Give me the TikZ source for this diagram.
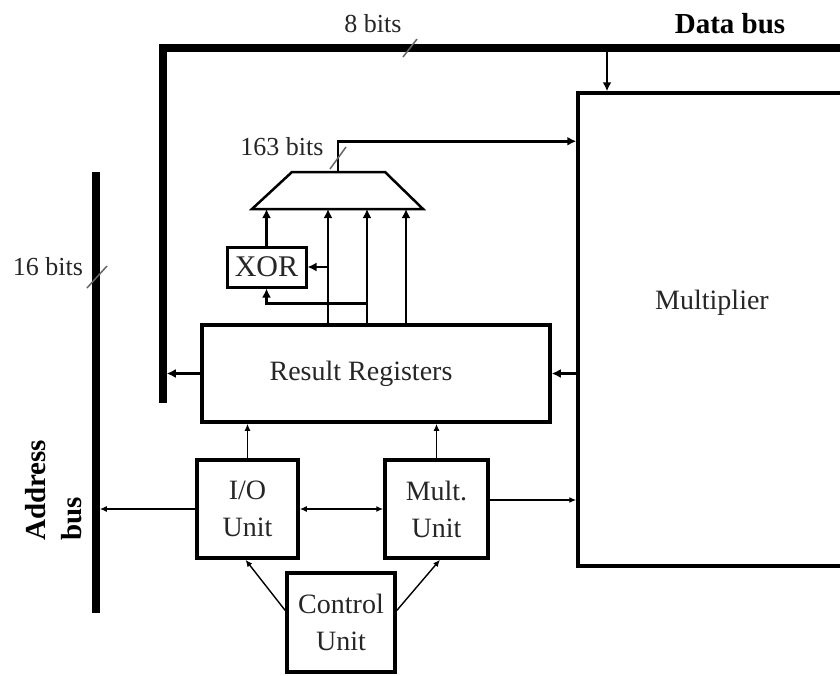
\documentclass[tikz,border=0pt]{standalone}
\usepackage{fontspec}
\setmainfont{Liberation Serif}
\usetikzlibrary{arrows.meta,calc}
\tikzset{
  bus/.style={line width=7.5pt, line cap=butt},
  buswire/.style={line width=2.8pt, -{Latex[length=9pt,width=9pt]}},
  ctrlwire/.style={line width=1.4pt, -{Latex[length=7pt,width=6pt]}},
  buswidth/.style={line width=1.5pt, draw=black!60},
  block/.style={draw, line width=3.5pt, inner sep=0pt, align=center,
    font=\fontsize{28}{37}\selectfont, text=black!85},
  unitbox/.style={block, minimum width=101pt, minimum height=98pt},
  buslabel/.style={font=\fontsize{26}{30}\selectfont, text=black!85},
  busname/.style={font=\fontsize{29}{36}\selectfont\bfseries}
}

\begin{document}
\begin{tikzpicture}[x=1pt,y=-1pt]
\useasboundingbox (0,0) rectangle (840,675);
\fill[white] (0,0) rectangle (840,675);
\clip (0,0) rectangle (840,675);

% buses
\coordinate (dbR) at (850,48);
\coordinate (dbL) at (163,48);
\coordinate (dbB) at (163,403);
\coordinate (abT) at (96,172);
\coordinate (abB) at (96,613);
\coordinate (dbtick) at (410,48);
\coordinate (abtick) at (97,277);
\coordinate (dbdrop) at (607,48);
\draw[bus, line join=miter] (dbR) -- (dbL) -- (dbB);
\draw[bus] (abT) -- (abB);
\draw[buswidth] (dbtick) ++(-7,9) -- ++(14,-18);
\draw[buswidth] (abtick) ++(-10,11) -- ++(20,-22);

\node[buslabel] (lbl8) at (373,24) {8 bits};
\node[busname] (dbname) at (730,24) {Data bus};
\node[buslabel] (lbl16) at (48,267) {16 bits};
\node[busname, rotate=90, anchor=west, align=left, inner sep=0pt] (abname) at (54,541) {Address\\bus};

% blocks
\node[block, minimum width=268pt, minimum height=473pt] (multbox) at (712,329.5) {};
\node[font=\fontsize{28}{37}\selectfont, text=black!85] (multtext) at (712,303) {Multiplier};
\node[block, minimum width=348pt, minimum height=97pt] (rr) at (376,373.5) {Result Registers\hspace{30pt}};
\node[block, line width=3pt, minimum width=79pt, minimum height=40pt,
  font=\fontsize{30}{36}\selectfont] (xor) at (266.5,267) {XOR};
\node[unitbox] (io) at (247.5,509) {I/O\\Unit};
\node[unitbox, minimum width=103pt] (mu) at (436.5,509) {Mult.\\Unit};
\node[unitbox, minimum width=108pt, minimum height=99pt] (cu) at (341,622.5) {Control\\Unit};

% multiplexer
\coordinate (muxTL) at (292,172);
\coordinate (muxTR) at (385,172);
\coordinate (muxBR) at (423,209);
\coordinate (muxBL) at (252,209);
\coordinate (muxout) at (338,172);
\draw[line width=2.5pt, line join=miter] (muxTL) -- (muxTR) -- (muxBR) -- (muxBL) -- cycle;

% multiplexer and xor paths
\coordinate (t2) at ([xshift=-48pt]rr.north);
\coordinate (t3) at ([xshift=-9pt]rr.north);
\coordinate (t4) at ([xshift=30pt]rr.north);
\draw[buswire] (muxout) |- ($(multbox.north west)+(0,50)$);
\draw[buswidth] ($(muxout)+(0,-14)$) ++(-8,11) -- ++(16,-22);
\node[buslabel, anchor=east] (lbl163) at (327,147) {163 bits};
\draw[buswire] (xor.north) -- (xor.north |- muxBL);
\foreach \t in {t2,t3,t4}
  \draw[buswire] (\t) -- (\t |- muxBL);
\draw[buswire] (t2 |- xor.east) -- (xor.east);
\draw[buswire] ([yshift=20pt]t3) -| (xor.south);

% data paths
\draw[buswire] (dbdrop) -- (dbdrop |- multbox.north);
\draw[buswire, shorten >=3.75pt] (rr.west) -- (rr.west -| dbB);
\draw[buswire] (rr.east -| multbox.west) -- (rr.east);
\draw[ctrlwire] (io.north) -- (io.north |- rr.south);
\draw[ctrlwire] (mu.north) -- (mu.north |- rr.south);
\draw[ctrlwire, {Latex[length=7pt,width=6pt]}-{Latex[length=7pt,width=6pt]}] (io.east) -- (mu.west);
\draw[ctrlwire] ([yshift=9pt]mu.east) -- ([yshift=9pt]mu.east -| multbox.west);
\draw[ctrlwire, line width=2pt, shorten >=3.75pt] (io.west) -- (io.west -| abB);
\draw[ctrlwire] ([yshift=12pt]cu.west) -- ([xshift=-2pt]io.south);
\draw[ctrlwire] ([yshift=12pt]cu.east) -- ([xshift=3.5pt]mu.south);

\end{tikzpicture}
\end{document}
